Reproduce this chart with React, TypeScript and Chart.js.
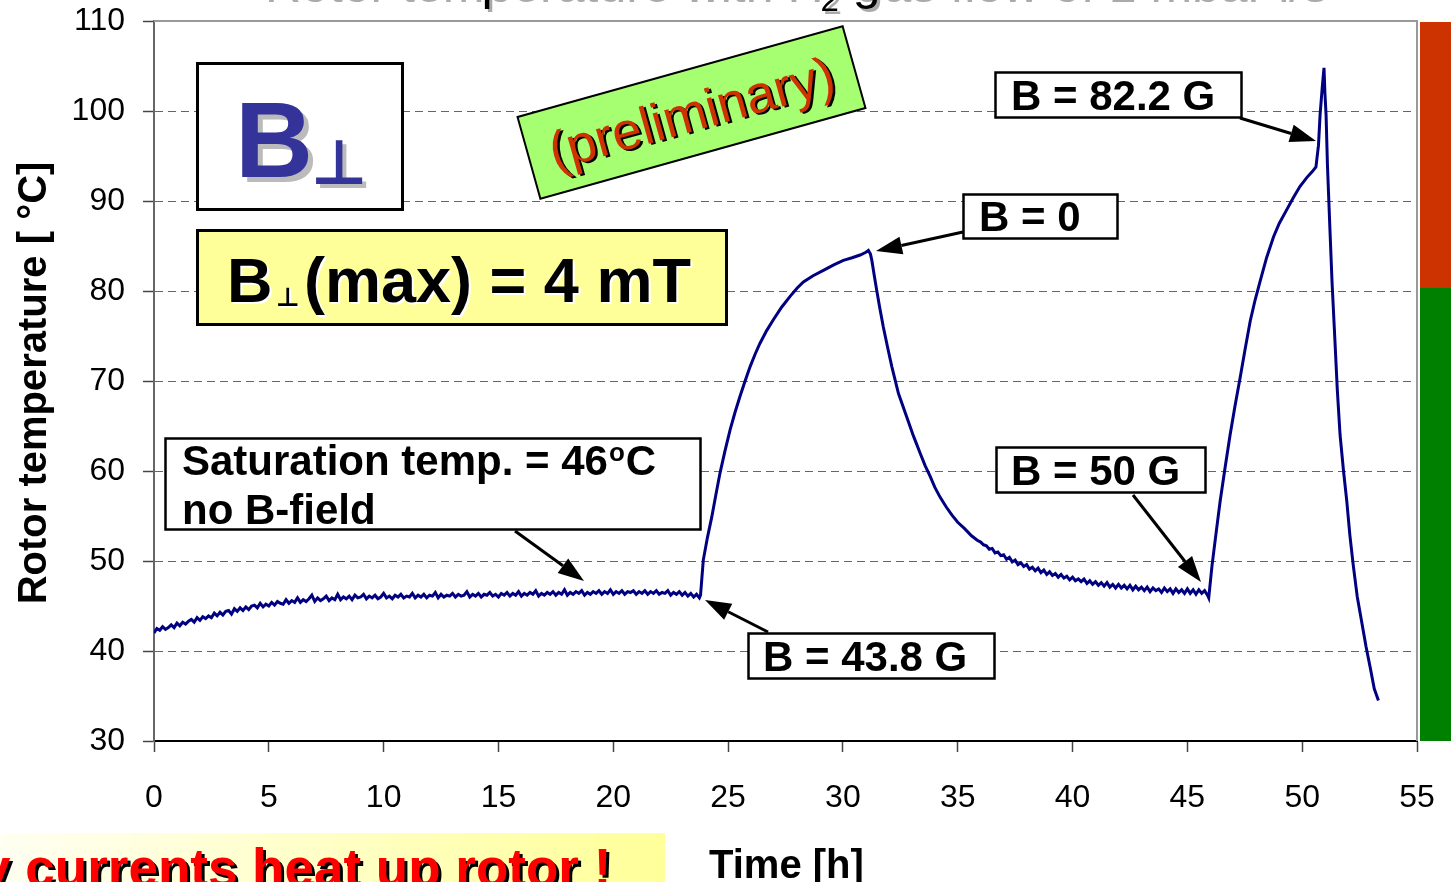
import React, { useEffect, useRef } from "react";
import { Chart, registerables } from "chart.js";

Chart.register(...registerables);

// ---- Data ----
// Phase 1: no B-field, rotor warms up to saturation (~46 °C)
const noFieldTime = [
  0, 0.125, 0.25, 0.375, 0.5, 0.625, 0.75, 0.875, 1, 1.125, 1.25, 1.375, 1.5, 1.625, 1.75, 1.875,
  2, 2.125, 2.25, 2.375, 2.5, 2.625, 2.75, 2.875, 3, 3.125, 3.25, 3.375, 3.5, 3.625, 3.75, 3.875,
  4, 4.125, 4.25, 4.375, 4.5, 4.625, 4.75, 4.875, 5, 5.125, 5.25, 5.375, 5.5, 5.625, 5.75, 5.875,
  6, 6.125, 6.25, 6.375, 6.5, 6.625, 6.75, 6.875, 7, 7.125, 7.25, 7.375, 7.5, 7.625, 7.75, 7.875,
  8, 8.125, 8.25, 8.375, 8.5, 8.625, 8.75, 8.875, 9, 9.125, 9.25, 9.375, 9.5, 9.625, 9.75, 9.875,
  10, 10.125, 10.25, 10.375, 10.5, 10.625, 10.75, 10.875, 11, 11.125, 11.25, 11.375, 11.5, 11.625, 11.75, 11.875,
  12, 12.125, 12.25, 12.375, 12.5, 12.625, 12.75, 12.875, 13, 13.125, 13.25, 13.375, 13.5, 13.625, 13.75, 13.875,
  14, 14.125, 14.25, 14.375, 14.5, 14.625, 14.75, 14.875, 15, 15.125, 15.25, 15.375, 15.5, 15.625, 15.75, 15.875,
  16, 16.125, 16.25, 16.375, 16.5, 16.625, 16.75, 16.875, 17, 17.125, 17.25, 17.375, 17.5, 17.625, 17.75, 17.875,
  18, 18.125, 18.25, 18.375, 18.5, 18.625, 18.75, 18.875, 19, 19.125, 19.25, 19.375, 19.5, 19.625, 19.75, 19.875,
  20, 20.125, 20.25, 20.375, 20.5, 20.625, 20.75, 20.875, 21, 21.125, 21.25, 21.375, 21.5, 21.625, 21.75, 21.875,
  22, 22.125, 22.25, 22.375, 22.5, 22.625, 22.75, 22.875, 23, 23.125, 23.25, 23.375, 23.5, 23.625, 23.75,
];
const noFieldTemp = [
  42.0, 42.5, 42.3, 42.7, 42.4, 42.6, 42.9, 42.6, 43.1, 42.8, 43.2, 43.0, 43.3, 43.5, 43.2, 43.7,
  43.4, 43.8, 43.6, 43.9, 43.7, 44.2, 43.9, 44.3, 44.0, 44.4, 44.5, 44.1, 44.7, 44.4, 44.8, 44.5,
  44.9, 44.6, 45.0, 45.1, 44.8, 45.3, 44.9, 45.2, 45.0, 45.4, 45.1, 45.5, 45.3, 45.2, 45.7, 45.3,
  45.6, 45.4, 45.9, 45.4, 45.7, 45.5, 45.8, 46.2, 45.5, 45.9, 45.6, 45.8, 46.1, 45.6, 45.9, 45.7,
  46.3, 45.7, 46.0, 45.8, 46.1, 45.7, 46.2, 45.9, 46.0, 46.3, 45.8, 46.1, 45.9, 46.2, 45.8, 46.0,
  46.4, 45.9, 46.1, 45.8, 46.2, 46.0, 46.3, 45.9, 46.1, 46.0, 46.4, 45.9, 46.2, 46.0, 46.3, 45.9,
  46.2, 46.1, 46.5, 45.9, 46.3, 46.0, 46.2, 46.1, 46.4, 46.0, 46.3, 46.1, 46.2, 46.6, 46.0, 46.3,
  46.1, 46.4, 46.0, 46.3, 46.2, 46.5, 46.1, 46.3, 46.0, 46.4, 46.2, 46.5, 46.1, 46.4, 46.2, 46.6,
  46.1, 46.4, 46.2, 46.5, 46.3, 46.7, 46.1, 46.4, 46.2, 46.5, 46.3, 46.6, 46.2, 46.5, 46.3, 46.8,
  46.2, 46.5, 46.3, 46.6, 46.4, 46.7, 46.2, 46.5, 46.3, 46.6, 46.4, 46.7, 46.3, 46.6, 46.4, 46.8,
  46.3, 46.6, 46.4, 46.7, 46.3, 46.6, 46.5, 46.7, 46.3, 46.6, 46.4, 46.7, 46.3, 46.6, 46.4, 46.7,
  46.3, 46.5, 46.4, 46.7, 46.2, 46.5, 46.3, 46.6, 46.2, 46.5, 46.1, 46.4, 46.0, 46.3, 45.9,
];

// Phase 2: B = 43.8 G switched on
const field438Time = [
  23.8, 23.92, 24.1, 24.29, 24.47, 24.65, 24.87, 25.09, 25.3, 25.52, 25.74, 25.96, 26.18, 26.39,
  26.68, 26.97, 27.33, 27.7, 28.0, 28.28, 28.7, 29.15, 29.6, 30.02, 30.4, 30.75, 31.0, 31.11,
];
const field438Temp = [
  46.2, 50.1, 52.6, 54.9, 57.4, 59.8, 62.3, 64.6, 66.5, 68.3, 70.0, 71.6, 73.0, 74.2,
  75.6, 76.8, 78.2, 79.4, 80.3, 81.0, 81.7, 82.3, 82.9, 83.4, 83.7, 84.0, 84.3, 84.5,
];

// Phase 3: B = 0, rotor cools down
const fieldZeroTime = [
  31.2, 31.26, 31.36, 31.47, 31.6, 31.76, 31.95, 32.13, 32.42, 32.78, 33.07, 33.36, 33.58, 33.8,
  34.0, 34.23, 34.5, 34.75, 35.0, 35.3, 35.6, 35.85,
  36, 36.125, 36.25, 36.375, 36.5, 36.625, 36.75, 36.875, 37, 37.125, 37.25, 37.375, 37.5, 37.625, 37.75, 37.875,
  38, 38.125, 38.25, 38.375, 38.5, 38.625, 38.75, 38.875, 39, 39.125, 39.25, 39.375, 39.5, 39.625, 39.75, 39.875,
  40, 40.125, 40.25, 40.375, 40.5, 40.625, 40.75, 40.875, 41, 41.125, 41.25, 41.375, 41.5, 41.625, 41.75, 41.875,
  42, 42.125, 42.25, 42.375, 42.5, 42.625, 42.75, 42.875, 43, 43.125, 43.25, 43.375, 43.5, 43.625, 43.75, 43.875,
  44, 44.125, 44.25, 44.375, 44.5, 44.625, 44.75, 44.875, 45, 45.125, 45.25, 45.375, 45.5, 45.625, 45.75, 45.875,
];
const fieldZeroTemp = [
  84.1, 83.4, 81.8, 80.1, 78.2, 76.0, 73.7, 71.6, 68.6, 66.0, 63.9, 62.0, 60.6, 59.4,
  58.2, 57.1, 56.0, 55.1, 54.3, 53.6, 52.8, 52.3,
  52.1, 51.8, 51.7, 51.3, 51.4, 50.9, 51.0, 50.6, 50.7, 50.2, 50.4, 49.9, 50.1, 49.6, 49.8, 49.4,
  49.6, 49.1, 49.3, 48.9, 49.2, 48.7, 49.0, 48.5, 48.8, 48.4, 48.6, 48.2, 48.5, 48.1, 48.3, 47.9,
  48.2, 47.8, 48.0, 47.7, 48.0, 47.5, 47.8, 47.4, 47.7, 47.3, 47.6, 47.2, 47.6, 47.1, 47.4, 47.0,
  47.4, 47.0, 47.3, 46.9, 47.3, 46.8, 47.2, 46.8, 47.1, 46.7, 47.1, 46.6, 47.0, 46.7, 46.9, 46.5,
  47.0, 46.6, 46.9, 46.4, 46.9, 46.5, 46.8, 46.4, 46.9, 46.4, 46.8, 46.3, 46.8, 46.4, 46.7, 46.2,
];

// Phase 4: B = 50 G
const field50Time = [
  45.93, 46.07, 46.25, 46.43, 46.65, 46.86, 47.08, 47.3, 47.52, 47.74, 47.95, 48.17,
  48.45, 48.75, 49.0, 49.3, 49.6, 49.9, 50.2, 50.45, 50.6,
];
const field50Temp = [
  45.9, 49.4, 53.1, 56.7, 60.5, 64.0, 67.3, 70.4, 73.6, 76.7, 79.0, 81.1,
  83.7, 86.0, 87.5, 88.9, 90.3, 91.6, 92.6, 93.3, 93.8,
];

// Phase 5: B = 82.2 G spike, then cooling
const field822Time = [
  50.71, 50.78, 50.87, 50.95, 50.99, 51.04, 51.1, 51.2, 51.3, 51.42, 51.53, 51.65, 51.8,
  51.94, 52.08, 52.23, 52.4, 52.6, 52.78, 52.96, 53.14, 53.32,
];
const field822Temp = [
  96.2, 99.6, 102.5, 104.8, 102.0, 99.6, 94.0, 87.4, 81.0, 74.8, 69.0, 64.0, 60.0,
  56.7, 52.8, 49.4, 46.0, 43.1, 40.5, 38.2, 35.8, 34.5,
];

const xTickValues = [0, 5, 10, 15, 20, 25, 30, 35, 40, 45, 50, 55];
const yTickValues = [30, 40, 50, 60, 70, 80, 90, 100, 110];

const FONT = "'Liberation Sans', Arial, Helvetica, sans-serif";

function drawArrow(ctx: CanvasRenderingContext2D, x1: number, y1: number, x2: number, y2: number) {
  const ang = Math.atan2(y2 - y1, x2 - x1);
  const headLen = 26;
  const headW = 9;
  const bx = x2 - headLen * Math.cos(ang);
  const by = y2 - headLen * Math.sin(ang);
  ctx.save();
  ctx.strokeStyle = "#000";
  ctx.lineWidth = 3;
  ctx.beginPath();
  ctx.moveTo(x1, y1);
  ctx.lineTo(bx, by);
  ctx.stroke();
  ctx.beginPath();
  ctx.moveTo(x2, y2);
  ctx.lineTo(bx + headW * Math.sin(ang), by - headW * Math.cos(ang));
  ctx.lineTo(bx - headW * Math.sin(ang), by + headW * Math.cos(ang));
  ctx.closePath();
  ctx.fillStyle = "#000";
  ctx.fill();
  ctx.restore();
}

function box(ctx: CanvasRenderingContext2D, x: number, y: number, w: number, h: number, fill: string, lw: number) {
  ctx.fillStyle = fill;
  ctx.fillRect(x, y, w, h);
  ctx.lineWidth = lw;
  ctx.strokeStyle = "#000";
  ctx.strokeRect(x, y, w, h);
}

function labelBox(ctx: CanvasRenderingContext2D, x: number, y: number, w: number, h: number, text: string, tx: number, ty: number) {
  box(ctx, x, y, w, h, "#fff", 2.5);
  ctx.fillStyle = "#000";
  ctx.font = `bold 42px ${FONT}`;
  ctx.textAlign = "left";
  ctx.textBaseline = "alphabetic";
  ctx.fillText(text, tx, ty);
}

const decorPlugin = {
  id: "decor",
  afterDraw(chart: any) {
    const ctx: CanvasRenderingContext2D = chart.ctx;
    const { left, right, top, bottom } = chart.chartArea;
    ctx.save();

    // frame top/right
    ctx.strokeStyle = "#999";
    ctx.lineWidth = 2;
    ctx.beginPath();
    ctx.moveTo(left, top);
    ctx.lineTo(right, top);
    ctx.lineTo(right, bottom);
    ctx.stroke();

    // right colour bars
    ctx.fillStyle = "#CC3300";
    ctx.fillRect(1420, 22, 31, 266);
    ctx.fillStyle = "#008000";
    ctx.fillRect(1420, 288, 31, 453);

    // Title (mostly cut off at top)
    ctx.textAlign = "left";
    ctx.textBaseline = "alphabetic";
    const t1 = "Rotor temperature with H";
    const t2 = " gas flow of 1 mbar l/s";
    ctx.font = `50px ${FONT}`;
    const w1 = ctx.measureText(t1).width;
    ctx.font = `33px ${FONT}`;
    const w2 = ctx.measureText("2").width;
    const drawTitle = (dx: number, dy: number, col: string) => {
      ctx.fillStyle = col;
      ctx.font = `50px ${FONT}`;
      ctx.fillText(t1, 262 + dx, -1 + dy);
      ctx.font = `33px ${FONT}`;
      ctx.fillText("2", 262 + w1 + dx, 11 + dy);
      ctx.font = `50px ${FONT}`;
      ctx.fillText(t2, 262 + w1 + w2 + dx, -1 + dy);
    };
    drawTitle(3, 3, "#aaa");
    drawTitle(0, 0, "#000");

    // B⊥ box
    box(ctx, 197.5, 63.5, 205, 146, "#fff", 3);
    ctx.font = `bold 108px ${FONT}`;
    ctx.fillStyle = "#bbb";
    ctx.fillText("B", 240, 182);
    ctx.fillStyle = "#333399";
    ctx.fillText("B", 235, 177);
    ctx.font = `bold 62px 'DejaVu Sans', sans-serif`;
    ctx.fillStyle = "#bbb";
    ctx.fillText("⊥", 315, 188);
    ctx.fillStyle = "#333399";
    ctx.fillText("⊥", 311, 184);

    // B⊥(max) = 4 mT box
    box(ctx, 197.5, 230.5, 529, 94, "#FFFF99", 3);
    const drawMax = (dx: number, dy: number, col: string) => {
      ctx.fillStyle = col;
      ctx.font = `bold 63px ${FONT}`;
      ctx.fillText("B", 227 + dx, 302 + dy);
      ctx.font = `bold 26px 'DejaVu Sans', sans-serif`;
      ctx.fillText("⊥", 276 + dx, 306 + dy);
      ctx.font = `bold 63px ${FONT}`;
      ctx.fillText("(max) = 4 mT", 304 + dx, 302 + dy);
    };
    drawMax(2, 2, "#fff");
    drawMax(0, 0, "#000");

    // (preliminary) rotated box
    ctx.save();
    ctx.translate(691.5, 112.5);
    ctx.rotate((-15.6 * Math.PI) / 180);
    ctx.fillStyle = "#A6FF70";
    ctx.fillRect(-168.75, -42.5, 337.5, 85);
    ctx.lineWidth = 2;
    ctx.strokeStyle = "#000";
    ctx.strokeRect(-168.75, -42.5, 337.5, 85);
    ctx.font = `53px ${FONT}`;
    ctx.textAlign = "center";
    ctx.textBaseline = "middle";
    ctx.fillStyle = "#000";
    ctx.fillText("(preliminary)", 2, 6);
    ctx.fillStyle = "#CC3300";
    ctx.fillText("(preliminary)", 0, 4);
    ctx.restore();

    ctx.textAlign = "left";
    ctx.textBaseline = "alphabetic";

    // Saturation box
    box(ctx, 165.5, 438.5, 535, 91, "#fff", 2.5);
    ctx.fillStyle = "#000";
    ctx.font = `bold 42px ${FONT}`;
    const s1 = "Saturation temp. = 46";
    ctx.fillText(s1, 182, 475);
    const sw = ctx.measureText(s1).width;
    ctx.font = `bold 26px ${FONT}`;
    ctx.fillText("o", 182 + sw + 1, 461);
    const ow = ctx.measureText("o").width;
    ctx.font = `bold 42px ${FONT}`;
    ctx.fillText("C", 182 + sw + ow + 2, 475);
    ctx.fillText("no B-field", 182, 524);

    // B-value boxes
    labelBox(ctx, 995.5, 72.5, 246, 45, "B = 82.2 G", 1011, 110);
    labelBox(ctx, 963.5, 194.5, 154, 44, "B = 0", 979, 231);
    labelBox(ctx, 996.5, 447.5, 209, 45, "B = 50 G", 1011, 485);
    labelBox(ctx, 748.5, 633.5, 246, 45, "B = 43.8 G", 763, 671);

    // Arrows
    drawArrow(ctx, 515, 531, 584, 581);
    drawArrow(ctx, 768, 632, 705, 600);
    drawArrow(ctx, 963, 232, 876, 251);
    drawArrow(ctx, 1133, 495, 1201, 582);
    drawArrow(ctx, 1240, 118, 1316, 141);

    // Y axis title
    ctx.save();
    ctx.translate(46, 383);
    ctx.rotate(-Math.PI / 2);
    ctx.textAlign = "center";
    ctx.fillStyle = "#000";
    ctx.font = `bold 40px ${FONT}`;
    ctx.fillText("Rotor temperature [ °C]", 0, 0);
    ctx.restore();

    // X axis title
    ctx.font = `bold 40px ${FONT}`;
    ctx.fillStyle = "#000";
    ctx.fillText("Time [h]", 709, 878);

    // Bottom yellow banner
    const g = ctx.createLinearGradient(0, 833, 665, 882);
    g.addColorStop(0, "#FFFFF2");
    g.addColorStop(1, "#FFFF99");
    ctx.fillStyle = g;
    ctx.fillRect(0, 833, 665, 49);
    ctx.font = `bold 53px ${FONT}`;
    ctx.fillStyle = "#000";
    ctx.fillText("Eddy currents heat up rotor !", -116, 889);
    ctx.fillStyle = "#FF0000";
    ctx.fillText("Eddy currents heat up rotor !", -119, 886);

    ctx.restore();
  },
};

export default function App() {
  const ref = useRef<HTMLCanvasElement | null>(null);

  useEffect(() => {
    if (!ref.current) return;
    const times = [...noFieldTime, ...field438Time, ...fieldZeroTime, ...field50Time, ...field822Time];
    const temps = [...noFieldTemp, ...field438Temp, ...fieldZeroTemp, ...field50Temp, ...field822Temp];
    const points = times.map((t, i) => ({ x: t, y: temps[i] }));

    const chart = new Chart(ref.current, {
      type: "line",
      data: {
        datasets: [
          {
            data: points,
            borderColor: "#000080",
            borderWidth: 3,
            pointRadius: 0,
            tension: 0,
            fill: false,
          },
        ],
      },
      options: {
        animation: false,
        responsive: false,
        devicePixelRatio: 1,
        layout: { padding: { top: 21, right: 34, left: 0, bottom: 0 } },
        plugins: {
          legend: { display: false },
          tooltip: { enabled: false },
          title: { display: false },
        },
        scales: {
          x: {
            type: "linear",
            min: 0,
            max: 55,
            afterBuildTicks: (s: any) => {
              s.ticks = xTickValues.map((v) => ({ value: v }));
            },
            ticks: {
              color: "#000",
              font: { family: FONT, size: 32 },
              padding: 27,
              maxRotation: 0,
              autoSkip: false,
            },
            grid: {
              drawOnChartArea: false,
              drawTicks: true,
              tickLength: 11,
              tickColor: "#444",
              tickWidth: 1.5,
            },
            border: { display: true, color: "#000", width: 2 },
            afterFit: (s: any) => {
              s.height = 141;
              s.paddingLeft = 0;
              s.paddingRight = 0;
              s.paddingTop = 0;
              s.paddingBottom = 0;
            },
          },
          y: {
            type: "linear",
            min: 30,
            max: 110,
            afterBuildTicks: (s: any) => {
              s.ticks = yTickValues.map((v) => ({ value: v }));
            },
            ticks: {
              color: "#000",
              font: { family: FONT, size: 32 },
              padding: 18,
              autoSkip: false,
            },
            grid: {
              color: "#666",
              lineWidth: 1,
              drawTicks: true,
              tickLength: 11,
              tickColor: "#444",
              tickWidth: 1.5,
              tickBorderDash: [],
            },
            border: { display: true, color: "#666", width: 2, dash: [8, 5] },
            afterFit: (s: any) => {
              s.width = 154;
              s.paddingLeft = 0;
              s.paddingRight = 0;
              s.paddingTop = 0;
              s.paddingBottom = 0;
            },
          },
        },
      } as any,
      plugins: [decorPlugin],
    });
    return () => chart.destroy();
  }, []);

  return (
    <canvas
      ref={ref}
      width={1451}
      height={882}
      style={{ position: "fixed", left: 0, top: 0, width: 1451, height: 882, background: "#fff" }}
    />
  );
}
